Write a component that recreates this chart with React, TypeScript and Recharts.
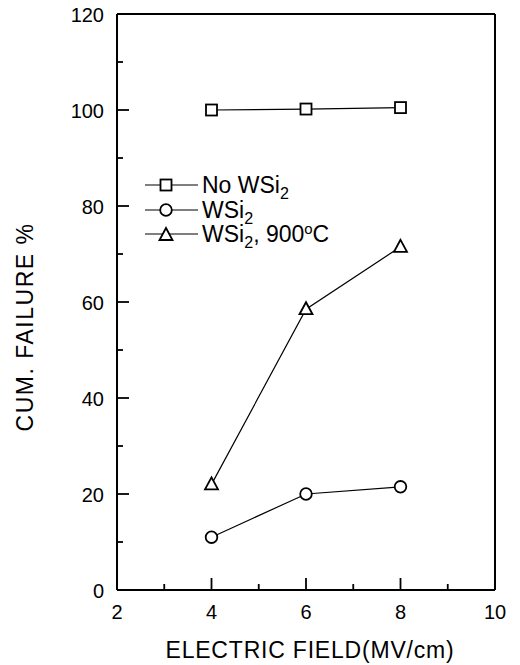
import React from 'react';
import { LineChart, Line, XAxis, YAxis, ReferenceLine, Legend } from 'recharts';

const fieldValues = [4, 6, 8];
const noWSi2Values = [100, 100.2, 100.5];
const wsi2Values = [11, 20, 21.5];
const wsi2At900Values = [22, 58.5, 71.5];

const xMajorTicks = [2, 4, 6, 8, 10];
const xAllTicks = [2, 3, 4, 5, 6, 7, 8, 9, 10];
const yMajorTicks = [0, 20, 40, 60, 80, 100, 120];
const yAllTicks = [0, 10, 20, 30, 40, 50, 60, 70, 80, 90, 100, 110, 120];

const xTitle = 'ELECTRIC FIELD(MV/cm)';
const yTitle = 'CUM. FAILURE %';

const data = fieldValues.map((f, i) => ({
  field: f,
  noWSi2: noWSi2Values[i],
  wsi2: wsi2Values[i],
  wsi2At900: wsi2At900Values[i],
}));

const FONT = '"Liberation Sans", Arial, Helvetica, sans-serif';

const Square = (p: any) => (
  <rect key={`sq-${p.index}`} x={p.cx - 5.5} y={p.cy - 5.5} width={11} height={11} fill="#fff" stroke="#000" strokeWidth={1.8} />
);
const Circ = (p: any) => (
  <circle key={`ci-${p.index}`} cx={p.cx} cy={p.cy} r={5.8} fill="#fff" stroke="#000" strokeWidth={1.8} />
);
const Tri = (p: any) => (
  <polygon
    key={`tr-${p.index}`}
    points={`${p.cx},${p.cy - 7} ${p.cx - 6.5},${p.cy + 5} ${p.cx + 6.5},${p.cy + 5}`}
    fill="#fff"
    stroke="#000"
    strokeWidth={1.8}
  />
);

const XTick = (props: any) => {
  const { x, y, payload } = props;
  const v = payload.value;
  const major = xMajorTicks.includes(v);
  return (
    <g>
      <line x1={x} x2={x} y1={y} y2={y - (major ? 12 : 6)} stroke="#000" strokeWidth={1.8} />
      {major && (
        <text x={x} y={y + 29} textAnchor="middle" fontSize={20} fontFamily={FONT} fill="#000">
          {v}
        </text>
      )}
    </g>
  );
};

const YTick = (props: any) => {
  const { x, y, payload } = props;
  const v = payload.value;
  const major = yMajorTicks.includes(v);
  return (
    <g>
      <line x1={x} x2={x + (major ? 12 : 6)} y1={y} y2={y} stroke="#000" strokeWidth={1.8} />
      {major && (
        <text x={x - 13} y={y + 7.5} textAnchor="end" fontSize={20} fontFamily={FONT} fill="#000">
          {v}
        </text>
      )}
    </g>
  );
};

const XTitle = (props: any) => {
  const vb = props.viewBox || { x: 117, y: 590, width: 378 };
  const cx = vb.x + vb.width / 2 + 4;
  const cy = vb.y + 68;
  return (
    <text x={cx} y={cy} textAnchor="middle" fontSize={23} fontFamily={FONT} letterSpacing={0.8} fill="#000">
      {xTitle}
    </text>
  );
};

const YTitle = (props: any) => {
  const vb = props.viewBox || { x: 0, y: 14, width: 117, height: 576 };
  const bx = 33;
  const cy = vb.y + vb.height / 2 + 25;
  return (
    <text
      x={bx}
      y={cy}
      transform={`rotate(-90, ${bx}, ${cy})`}
      textAnchor="middle"
      fontSize={23}
      fontFamily={FONT}
      letterSpacing={1.5}
      fill="#000"
    >
      {yTitle}
    </text>
  );
};

const subStyle = { fontSize: '0.7em', verticalAlign: '-0.35em', lineHeight: 0 } as const;

const legendRows = [
  { key: 'noWSi2', marker: 'square', label: <>No WSi<sub style={subStyle}>2</sub></> },
  { key: 'wsi2', marker: 'circle', label: <>WSi<sub style={subStyle}>2</sub></> },
  {
    key: 'wsi2At900',
    marker: 'triangle',
    label: (
      <>
        WSi<sub style={subStyle}>2</sub>, 900
        <sup style={{ fontSize: '0.65em', verticalAlign: '0.55em', lineHeight: 0 }}>o</sup>C
      </>
    ),
  },
];

const LegendContent = () => (
  <div style={{ fontFamily: FONT, fontSize: 23, color: '#000' }}>
    {legendRows.map((r) => (
      <div key={r.key} style={{ display: 'flex', alignItems: 'center', height: 24.5, lineHeight: '24.5px', whiteSpace: 'nowrap' }}>
        <svg width={57} height={24} style={{ flex: 'none' }}>
          <line x1={0} x2={53} y1={12} y2={12} stroke="#000" strokeWidth={1.2} />
          {r.marker === 'square' && Square({ cx: 21, cy: 12, index: 0 })}
          {r.marker === 'circle' && Circ({ cx: 21, cy: 12, index: 0 })}
          {r.marker === 'triangle' && Tri({ cx: 21, cy: 13, index: 0 })}
        </svg>
        <span>{r.label}</span>
      </div>
    ))}
  </div>
);

export default function App() {
  return (
    <div style={{ position: 'absolute', left: 0, top: 0, width: 520, height: 665, background: '#fff' }}>
      <LineChart width={520} height={665} data={data} margin={{ top: 14, right: 25, bottom: 15, left: 0 }}>
        <XAxis
          dataKey="field"
          type="number"
          domain={[2, 10]}
          ticks={xAllTicks}
          interval={0}
          tickSize={0}
          tickMargin={0}
          height={60}
          axisLine={{ stroke: '#000', strokeWidth: 2 }}
          tickLine={false}
          tick={<XTick />}
          label={<XTitle />}
          allowDataOverflow
        />
        <YAxis
          type="number"
          domain={[0, 120]}
          ticks={yAllTicks}
          interval={0}
          tickSize={0}
          tickMargin={0}
          width={117}
          axisLine={{ stroke: '#000', strokeWidth: 2 }}
          tickLine={false}
          tick={<YTick />}
          label={<YTitle />}
          allowDataOverflow
        />
        <ReferenceLine y={120} stroke="#000" strokeWidth={2} />
        <ReferenceLine x={10} stroke="#000" strokeWidth={2} />
        <Legend
          layout="vertical"
          align="center"
          verticalAlign="middle"
          wrapperStyle={{ left: 145, top: 173, width: 'auto' }}
          content={<LegendContent />}
        />
        <Line dataKey="noWSi2" stroke="#000" strokeWidth={1.2} dot={Square} activeDot={false} isAnimationActive={false} />
        <Line dataKey="wsi2" stroke="#000" strokeWidth={1.2} dot={Circ} activeDot={false} isAnimationActive={false} />
        <Line dataKey="wsi2At900" stroke="#000" strokeWidth={1.2} dot={Tri} activeDot={false} isAnimationActive={false} />
      </LineChart>
    </div>
  );
}
